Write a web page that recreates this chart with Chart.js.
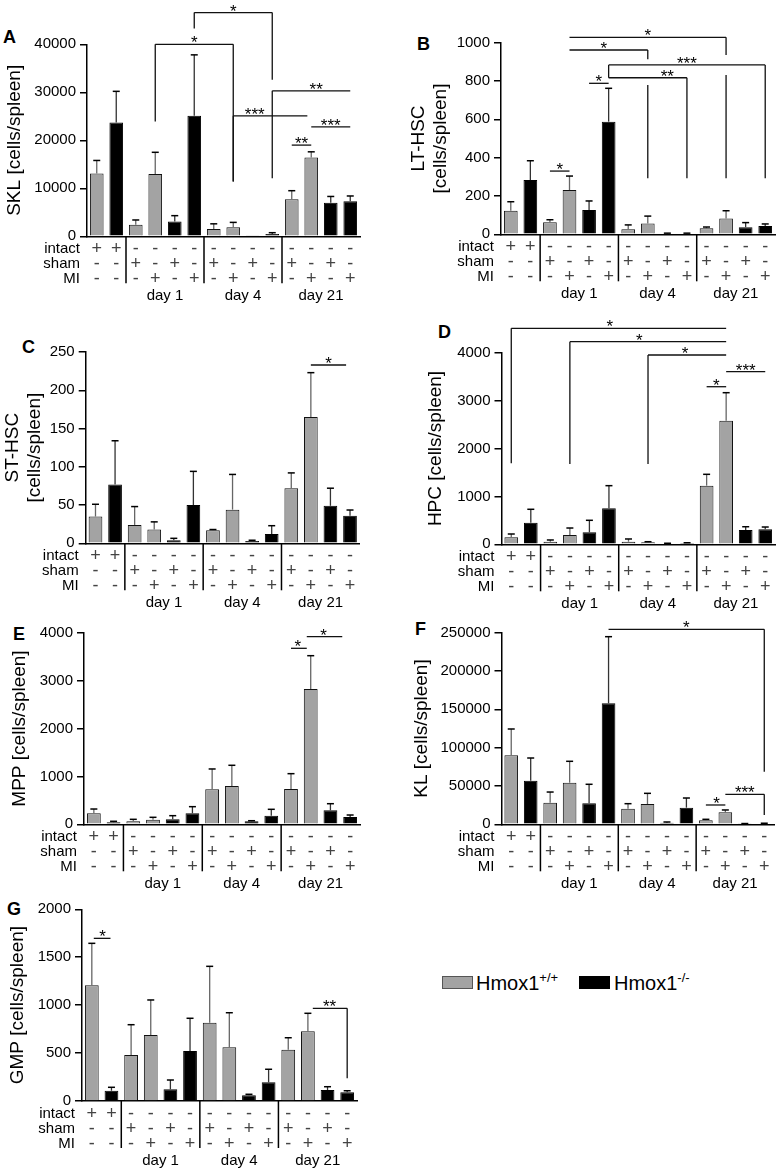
<!DOCTYPE html>
<html>
<head>
<meta charset="utf-8">
<script src="https://cdn.jsdelivr.net/npm/chart.js@4.4.1/dist/chart.umd.min.js"></script>
<style>
  body { margin: 0; background: #fff; font-family: "Liberation Sans", Arial, sans-serif; }
  #fig { position: relative; width: 777px; height: 1170px; overflow: hidden; }
  #fig canvas { position: absolute; }
  .tag { position: absolute; font-weight: bold; font-size: 18px; line-height: 18px; }
  .key { position: absolute; width: 29px; height: 11px; }
  .keytxt { position: absolute; font-size: 20px; line-height: 20px; white-space: nowrap; }
  .keytxt sup { font-size: 13px; vertical-align: 8px; line-height: 0; }
</style>
</head>
<body>
<div id="fig">
  <div class="tag" style="left:3px;top:28px">A</div>
  <div class="tag" style="left:417px;top:35px">B</div>
  <div class="tag" style="left:22px;top:338px">C</div>
  <div class="tag" style="left:438px;top:323px">D</div>
  <div class="tag" style="left:13px;top:625px">E</div>
  <div class="tag" style="left:415px;top:620px">F</div>
  <div class="tag" style="left:7px;top:900px">G</div>

  <div class="key" style="left:442px;top:976px;background:#a3a3a3;border:1px solid #555"></div>
  <div class="keytxt" style="left:476px;top:973px">Hmox1<sup>+/+</sup></div>
  <div class="key" style="left:579px;top:976px;background:#000;border:1px solid #000"></div>
  <div class="keytxt" style="left:614px;top:973px">Hmox1<sup>-/-</sup></div>
</div>

<script>
// table under every panel
const intactRow = ['+', '+', '-', '-', '-', '-', '-', '-', '-', '-', '-', '-', '-', '-'];
const shamRow   = ['-', '-', '+', '-', '+', '-', '+', '-', '+', '-', '+', '-', '+', '-'];
const miRow     = ['-', '-', '-', '+', '-', '+', '-', '+', '-', '+', '-', '+', '-', '+'];
const genotype  = ['+/+', '-/-', '+/+', '+/+', '-/-', '-/-', '+/+', '+/+', '-/-', '-/-', '+/+', '+/+', '-/-', '-/-'];
const rowNames  = ['intact', 'sham', 'MI'];
const dayLabels = ['day 1', 'day 4', 'day 21'];

// means and SEM (cells/spleen)
const sklMean = [13100, 23700, 2400, 13000, 3100, 25100, 1500, 1900, 200, 500, 7700, 16400, 7000, 7300];
const sklSem  = [2700, 6500, 1000, 4500, 1200, 12700, 1100, 1000, 0, 250, 1800, 1200, 1300, 1100];

const lthscMean = [123, 283, 63, 231, 127, 588, 26, 57, 4, 4, 31, 83, 37, 43];
const lthscSem  = [47, 101, 13, 73, 47, 174, 23, 38, 2, 2, 7, 40, 24, 11];

const sthscMean = [35, 77, 24, 18, 4, 50, 17, 44, 3, 12, 72, 165, 49, 36];
const sthscSem  = [16, 57, 24, 10, 2.5, 44, 1, 46, 1, 11, 20, 58, 23, 7.5];

const hpcMean = [146, 451, 54, 194, 250, 752, 54, 42, 15, 25, 1224, 2580, 299, 313];
const hpcSem  = [69, 280, 36, 146, 251, 472, 57, 12, 7, 7, 237, 585, 68, 48];

const mppMean = [230, 42, 63, 97, 104, 230, 731, 800, 63, 180, 737, 2825, 292, 152];
const mppSem  = [89, 21, 41, 49, 76, 138, 424, 432, 12, 133, 320, 695, 138, 42];

const klMean = [90000, 56900, 28200, 54300, 27400, 157900, 20400, 26500, 2100, 21700, 5200, 15600, 800, 1000];
const klSem  = [34350, 29600, 13900, 27900, 24800, 86900, 6500, 13900, 900, 12600, 1300, 3100, 200, 400];

const gmpMean = [1207, 107, 480, 689, 122, 522, 817, 560, 59, 195, 535, 727, 115, 91];
const gmpSem  = [438, 36, 316, 365, 97, 341, 588, 361, 11, 136, 125, 188, 34, 16];

// significance brackets: from/to = category index, at = value level, legs = [index, fromValue, toValue]
const sklSig = [
  { from: 3, to: 7, at: 40000, text: '*', legs: [[3, 40000, 23900], [7, 40000, 11400]] },
  { from: 5, to: 9, at: 46600, text: '*', legs: [[5, 46600, 43300], [9, 46600, 32600]] },
  { from: 7, to: 10.8, at: 25100, text: '***', tx: 8.1, legs: [[7, 25100, 11400]] },
  { from: 9, to: 13, at: 30300, text: '**', tx: 11.25, legs: [[9, 30300, 12100]] },
  { from: 10, to: 11, at: 19000, text: '**' },
  { from: 11, to: 13, at: 22800, text: '***' }
];
const lthscSig = [
  { from: 3, to: 11, at: 1028, text: '*', legs: [[11, 1028, 936], [11, 831, 292]] },
  { from: 3, to: 7, at: 962, text: '*', tx: 4.75, legs: [[7, 962, 913], [7, 779, 292]] },
  { from: 5, to: 13, at: 884, text: '***', legs: [[13, 884, 292], [5, 884, 817]] },
  { from: 5, to: 9, at: 817, text: '**', tx: 8, legs: [[9, 817, 292]] },
  { from: 4, to: 5, at: 788, text: '*' },
  { from: 2, to: 3, at: 330, text: '*' }
];
const sthscSig = [
  { from: 11, to: 12.8, at: 233, text: '*', tx: 11.9 }
];
const hpcSig = [
  { from: 0, to: 11, at: 4509, text: '*', tx: 5.05, legs: [[0, 4509, 1691]] },
  { from: 3, to: 11, at: 4230, text: '*', tx: 6.55, legs: [[3, 4230, 1676]] },
  { from: 7, to: 11, at: 3952, text: '*', tx: 8.9, legs: [[7, 3952, 1676]] },
  { from: 10, to: 11, at: 3290, text: '*' },
  { from: 11, to: 13, at: 3603, text: '***' }
];
const mppSig = [
  { from: 10, to: 10.8, at: 3674, text: '*', tx: 10.35 },
  { from: 10.8, to: 12.6, at: 3917, text: '*', tx: 11.65 }
];
const klSig = [
  { from: 5, to: 13, at: 254400, text: '*', legs: [[13, 254400, 68600]] },
  { from: 10, to: 11, at: 25200, text: '*', tx: 10.55 },
  { from: 11, to: 13, at: 39100, text: '***', legs: [[13, 39100, 12100]] }
];
const gmpSig = [
  { from: 0.1, to: 0.95, at: 1697, text: '*', tx: 0.55 },
  { from: 11.25, to: 13, at: 967, text: '**', tx: 12.1, legs: [[13, 967, 237]] }
];

const FONT = '"Liberation Sans", Arial, sans-serif';
Chart.defaults.font.family = FONT;

const panels = [
  { title: 'SKL [cells/spleen]', max: 40000, step: 10000, mean: sklMean, sem: sklSem, sig: sklSig,
    box: { x: 0, y: 0, w: 388, h: 320 }, area: { l: 87, t: 44.3, r: 360, b: 236.3 }, titleX: 15 },
  { title: ['LT-HSC', '[cells/spleen]'], max: 1000, step: 200, mean: lthscMean, sem: lthscSem, sig: lthscSig,
    box: { x: 388, y: 0, w: 389, h: 320 }, area: { l: 501, t: 42.7, r: 775, b: 234.3 }, titleX: 419 },
  { title: ['ST-HSC', '[cells/spleen]'], max: 250, step: 50, mean: sthscMean, sem: sthscSem, sig: sthscSig,
    box: { x: 0, y: 300, w: 388, h: 320 }, area: { l: 85.7, t: 352, r: 359.8, b: 543.3 }, titleX: 13 },
  { title: 'HPC [cells/spleen]', max: 4000, step: 1000, mean: hpcMean, sem: hpcSem, sig: hpcSig,
    box: { x: 388, y: 300, w: 389, h: 320 }, area: { l: 501.5, t: 352.7, r: 775, b: 544.3 }, titleX: 436 },
  { title: 'MPP [cells/spleen]', max: 4000, step: 1000, mean: mppMean, sem: mppSem, sig: mppSig,
    box: { x: 0, y: 590, w: 388, h: 310 }, area: { l: 84, t: 632.7, r: 360, b: 824.3 }, titleX: 20 },
  { title: 'KL [cells/spleen]', max: 250000, step: 50000, mean: klMean, sem: klSem, sig: klSig,
    box: { x: 388, y: 590, w: 389, h: 310 }, area: { l: 501.5, t: 632.7, r: 774, b: 824.3 }, titleX: 422 },
  { title: 'GMP [cells/spleen]', max: 2000, step: 500, mean: gmpMean, sem: gmpSem, sig: gmpSig,
    box: { x: 0, y: 870, w: 388, h: 300 }, area: { l: 82, t: 909.3, r: 357, b: 1101 }, titleX: 17.5 }
];

const labels = intactRow.map((v, i) => [intactRow[i], shamRow[i], miRow[i]]);

// error bars, table row names, group separators, day labels, brackets
function extras(p) {
  return {
    id: 'extras',
    afterDraw(chart) {
      const { ctx, chartArea: ca, scales: { x, y } } = chart;
      const X = v => x.getPixelForValue(v);
      const Y = v => y.getPixelForValue(v);
      ctx.save();

      p.mean.forEach((m, i) => {
        if (!p.sem[i]) return;
        const px = X(i), y0 = Y(m), y1 = Y(m + p.sem[i]);
        ctx.strokeStyle = genotype[i] === '+/+' ? '#666' : '#333';
        ctx.lineWidth = 1.3;
        ctx.beginPath(); ctx.moveTo(px, y0); ctx.lineTo(px, y1); ctx.stroke();
        ctx.strokeStyle = '#000';
        ctx.lineWidth = 1.5;
        ctx.beginPath(); ctx.moveTo(px - 3.5, y1); ctx.lineTo(px + 3.5, y1); ctx.stroke();
      });

      ctx.fillStyle = '#000';
      ctx.font = '15px ' + FONT;
      ctx.textAlign = 'right';
      ctx.textBaseline = 'middle';
      rowNames.forEach((n, r) => ctx.fillText(n, ca.left - 7, ca.bottom + 13 + 15 * r));

      ctx.strokeStyle = '#000';
      ctx.lineWidth = 1.5;
      [1.5, 5.5, 9.5].forEach(v => {
        ctx.beginPath(); ctx.moveTo(X(v), ca.bottom); ctx.lineTo(X(v), ca.bottom + 47); ctx.stroke();
      });

      ctx.textAlign = 'center';
      dayLabels.forEach((d, k) => ctx.fillText(d, X(3.5 + 4 * k), ca.bottom + 60));

      ctx.strokeStyle = '#111';
      ctx.lineWidth = 1.3;
      ctx.font = '17px ' + FONT;
      ctx.textBaseline = 'alphabetic';
      p.sig.forEach(s => {
        const yy = Y(s.at);
        ctx.beginPath();
        ctx.moveTo(X(s.from), yy); ctx.lineTo(X(s.to), yy);
        (s.legs || []).forEach(([i, a, b]) => { ctx.moveTo(X(i), Y(a)); ctx.lineTo(X(i), Y(b)); });
        ctx.stroke();
        ctx.fillText(s.text, X(s.tx !== undefined ? s.tx : (s.from + s.to) / 2), yy + 4);
      });
      ctx.restore();
    }
  };
}

const fig = document.getElementById('fig');
panels.forEach(p => {
  const cv = document.createElement('canvas');
  cv.width = p.box.w; cv.height = p.box.h;
  cv.style.left = p.box.x + 'px'; cv.style.top = p.box.y + 'px';
  cv.style.width = p.box.w + 'px'; cv.style.height = p.box.h + 'px';
  fig.appendChild(cv);

  new Chart(cv, {
    type: 'bar',
    data: {
      labels: labels,
      datasets: [
        { label: 'Hmox1+/+', data: p.mean.map((v, i) => genotype[i] === '+/+' ? v : null),
          backgroundColor: '#a3a3a3', borderColor: '#111', borderWidth: 1 },
        { label: 'Hmox1-/-', data: p.mean.map((v, i) => genotype[i] === '-/-' ? v : null),
          backgroundColor: '#000', borderColor: '#000', borderWidth: 1 }
      ]
    },
    options: {
      responsive: false,
      animation: false,
      devicePixelRatio: 1,
      datasets: { bar: { grouped: false, barPercentage: 0.7, categoryPercentage: 1 } },
      layout: {
        autoPadding: false,
        padding: { left: 0, bottom: 0, top: p.area.t - p.box.y, right: p.box.x + p.box.w - p.area.r }
      },
      plugins: { legend: { display: false }, tooltip: { enabled: false } },
      scales: {
        x: {
          offset: true,
          grid: { display: false, drawTicks: false },
          border: { color: '#000', width: 1.5 },
          ticks: { autoSkip: false, maxRotation: 0, minRotation: 0, padding: 5.5, color: '#444',
                   font: { size: 18, lineHeight: '15px' } },
          afterFit: s => { s.height = p.box.y + p.box.h - p.area.b; }
        },
        y: {
          min: 0, max: p.max,
          ticks: { stepSize: p.step, padding: 4, color: '#000', font: { size: 15 }, callback: v => String(v) },
          grid: { drawOnChartArea: false, drawTicks: true, tickLength: 7, color: '#000', lineWidth: 1.5 },
          border: { color: '#000', width: 1.5 },
          title: { display: true, text: p.title, color: '#000', font: { size: 19, lineHeight: 1.15 },
                   padding: { top: p.titleX - p.box.x - 19 * 1.15 / 2, bottom: 0 } },
          afterFit: s => { s.width = p.area.l - p.box.x; }
        }
      }
    },
    plugins: [extras(p)]
  });
});
</script>
</body>
</html>
